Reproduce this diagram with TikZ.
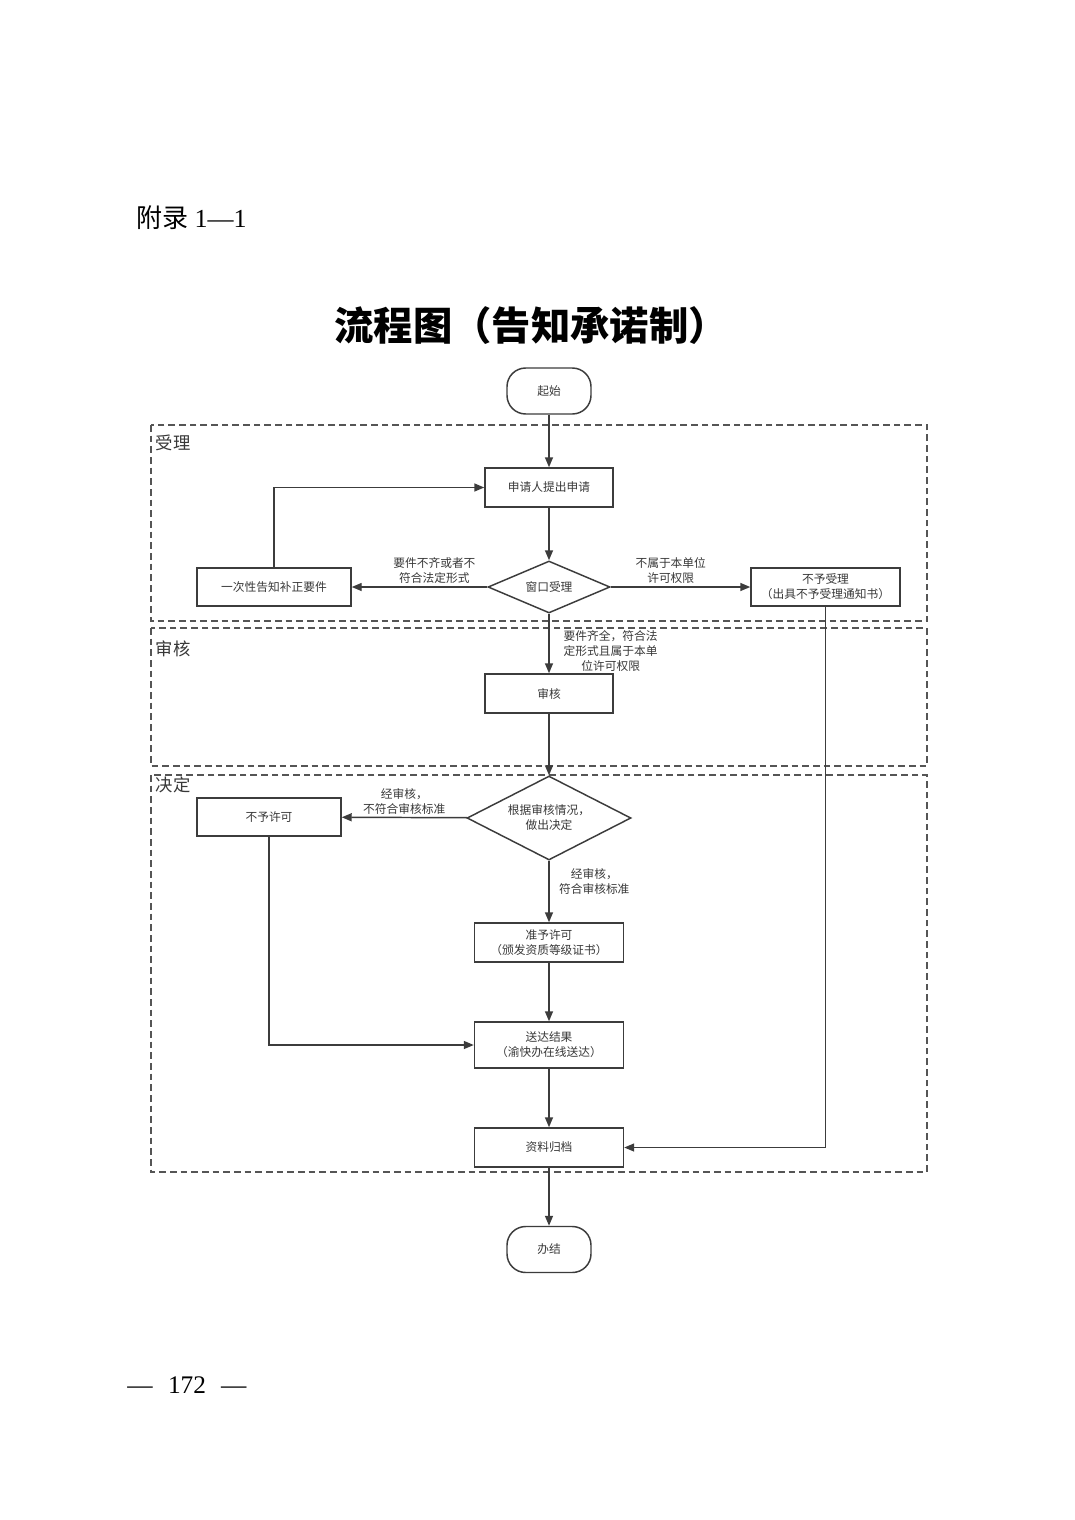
\documentclass[tikz,border=0pt]{standalone}
\usepackage{fontspec}
\setmainfont{Liberation Serif}
\newfontfamily\cjk{Noto Sans CJK SC}
\usetikzlibrary{shapes.geometric,arrows.meta}
\definecolor{linegray}{HTML}{3C3C3C}
\definecolor{textgray}{HTML}{383838}
\definecolor{lanegray}{HTML}{555555}

\begin{document}
\begin{tikzpicture}[x=0.75pt,y=-0.75pt,->,>={Triangle[length=7.5pt,width=6pt]},line width=1.1pt,draw=linegray]
\tikzstyle{every node} = [font=\cjk\fontsize{8.8}{11.25}\selectfont, text=textgray, align=center]
\tikzstyle{proc}=[rectangle, draw=linegray, fill=white, inner sep=2pt]
\tikzstyle{term}=[proc, rounded corners=14pt, minimum width=63pt, minimum height=34.5pt]
\tikzstyle{check}=[diamond, draw=linegray, fill=white, inner sep=1pt]
\tikzstyle{lane}=[-, dash pattern=on 5pt off 3pt, draw=lanegray]
\tikzstyle{lanelabel}=[anchor=west, inner sep=0pt, font=\cjk\fontsize{13}{15}\selectfont]
\tikzstyle{note}=[inner sep=2pt]
\fill[white,-] (0,0) rectangle (1074,1520);
\useasboundingbox (0,0) rectangle (1074,1520);
% page head and title
\node[anchor=west, text=black, font=\fontsize{19.5}{22}\selectfont] (appendix) at (131,218) {{\cjk 附录} 1—1};
\node[text=black, font=\cjk\bfseries\fontsize{29.5}{32}\selectfont] (title) at (531,326) {流程图（告知承诺制）};
% lanes
\draw[lane] (151,425) rectangle (927,621);
\draw[lane] (151,628) rectangle (927,766);
\draw[lane] (151,775) rectangle (927,1172);
\node[lanelabel] (lblaccept) at (155,443) {受理};
\node[lanelabel] (lblreview) at (155,649) {审核};
\node[lanelabel] (lbldecide) at (155,785) {决定};
% steps
\node[term] (start) at (549,391) {起始};
\node[proc, minimum width=96pt, minimum height=29.25pt] (apply) at (549,487.5) {申请人提出申请};
\node[check, shape aspect=2.35, minimum width=91.5pt, minimum height=39pt] (window) at (549,587) {窗口受理};
\node[proc, minimum width=115.5pt, minimum height=28.5pt] (notify) at (274,587) {一次性告知补正要件};
\node[proc, minimum width=111.75pt, minimum height=28.5pt] (reject) at (825.5,587) {不予受理\\（出具不予受理通知书）};
\node[proc, minimum width=96pt, minimum height=29.25pt] (review) at (549,693.5) {审核};
\node[check, shape aspect=1.95, minimum width=123pt, minimum height=63pt] (decide) at (549,818) {根据审核情况，\\做出决定};
\node[proc, minimum width=108pt, minimum height=28.5pt] (deny) at (269,817) {不予许可};
\node[proc, minimum width=111.75pt, minimum height=29.25pt] (grant) at (549,942.5) {准予许可\\（颁发资质等级证书）};
\node[proc, minimum width=111.75pt, minimum height=34.5pt] (deliver) at (549,1045) {送达结果\\（渝快办在线送达）};
\node[proc, minimum width=111.75pt, minimum height=29.25pt] (archive) at (549,1147.5) {资料归档};
\node[term] (finish) at (549,1249.5) {办结};
\path (start) edge (apply)
      (apply) edge (window)
      (window) edge node[note, above, pos=0.39]{要件不齐或者不\\符合法定形式} (notify)
               edge node[note, above, pos=0.43]{不属于本单位\\许可权限} (reject)
               edge node[note, anchor=west, xshift=8.5pt, pos=0.62]{要件齐全，符合法\\定形式且属于本单\\位许可权限} (review)
      (review) edge (decide)
      (decide) edge node[note, above]{经审核，\\不符合审核标准} (deny)
               edge node[note, anchor=west, xshift=5pt, pos=0.33]{经审核，\\符合审核标准} (grant)
      (grant) edge (deliver)
      (deliver) edge (archive)
      (archive) edge (finish);
\draw (notify.north) |- (apply.west);
\draw (reject.south) |- (archive.east);
\draw (deny.south) |- (deliver.west);
% page number
\node[text=black, font=\fontsize{19}{22}\selectfont] (pagenum) at (187,1385) {—\hspace{0.6em}172\hspace{0.6em}—};
\end{tikzpicture}
\end{document}
